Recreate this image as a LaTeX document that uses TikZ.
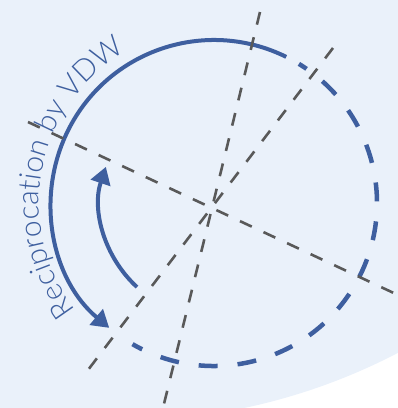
\documentclass[tikz,border=0pt]{standalone}
\usepackage{fontspec}
\newfontfamily\vdwfont{Lato Light}
\usetikzlibrary{arrows.meta,decorations.text}
\definecolor{vdwblue}{HTML}{3E5F9F}
\definecolor{paleblue}{HTML}{EAF1FA}
\definecolor{guidegray}{HTML}{595959}

\begin{document}
\begin{tikzpicture}[x=1pt,y=1pt,guide/.style={draw=guidegray,line width=2.6pt,dash pattern=on 13pt off 13pt},ring/.style={draw=vdwblue,line width=4.5pt},turn/.style={draw=vdwblue,line width=4pt,-{Triangle[length=17pt,width=20pt]}}]
\useasboundingbox (-214,-205) rectangle (184,203);
\begin{scope}
\clip (-214,-205) rectangle (184,203);
\fill[paleblue] (-95,386) circle (604);
\end{scope}
\coordinate (c) at (0,0);
\coordinate (l1a) at (-186,81);
\coordinate (l1b) at (184,-92);
\coordinate (l2a) at (46,191);
\coordinate (l2b) at (-51,-205);
\coordinate (l3a) at (119,155);
\coordinate (l3b) at (-126,-167);
% circle, dashed part and solid part
\draw[ring,dash pattern=on 19pt off 20pt,dash phase=8pt] (240:163) arc[start angle=240,end angle=418.6,radius=163];
\draw[turn] (63.7:163) arc[start angle=63.7,end angle=230,radius=163];
\draw[turn] (227.5:114) arc[start angle=227.5,end angle=161.5,radius=114];
\path[decorate,decoration={text along path,text align=center,text={|\vdwfont\fontsize{30}{30}\selectfont\color{vdwblue}|Reciprocation by VDW}}] (220:175) arc[start angle=220,end angle=118,radius=175];
% guide lines
\draw[guide] (l1a) -- (l1b);
\draw[guide] (l2a) -- (l2b);
\draw[guide] (l3a) -- (l3b);
\end{tikzpicture}
\end{document}
